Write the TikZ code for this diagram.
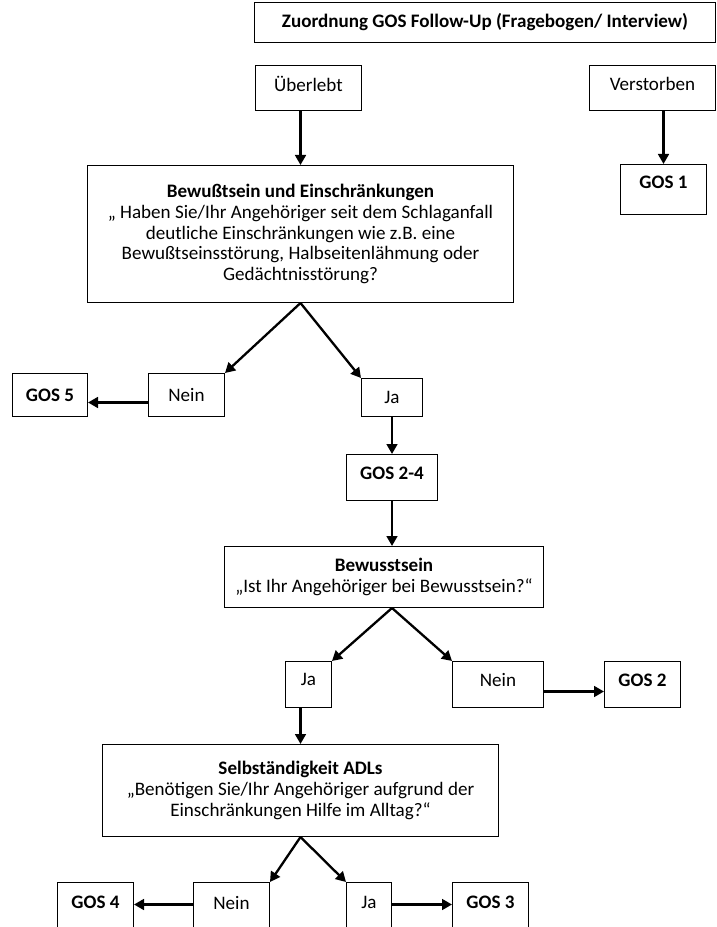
\documentclass[tikz,border=0pt]{standalone}
\usepackage{fontspec}
\setmainfont{Carlito}
\usetikzlibrary{arrows.meta}
\newcommand{\pxu}{0.65pt}
\tikzset{
  box/.style={draw,line width=0.65pt,anchor=north west,inner sep=0pt,align=center,
    font=\fontsize{12.4}{13.5}\selectfont},
  lift/.style={text depth=#1},
  flow/.style={line width=1.5pt,-{Triangle[length=6.5pt,width=7pt]}}
}
\begin{document}
\begin{tikzpicture}[x=\pxu,y=-\pxu]
                \useasboundingbox (0,0) rectangle (716,927);
                %% Titel
                \node[box,minimum width=461*\pxu,minimum height=40*\pxu] (T) at (254,2) {\textbf{Zuordnung GOS Follow-Up (Fragebogen/ Interview)}};
                %% Ueberlebt/Verstorben
                \node[box,lift=5.5pt,minimum width=106*\pxu,minimum height=45*\pxu] (U) at (255,65) {Überlebt};
                \node[box,lift=5.5pt,minimum width=126*\pxu,minimum height=45*\pxu] (V) at (589,65) {Verstorben};
                \node[box,lift=9pt,minimum width=86*\pxu,minimum height=50*\pxu] (G1) at (620,164) {\textbf{GOS 1}};
                %% Bewusstsein und Einschraenkungen
                \node[box,minimum width=426*\pxu,minimum height=137*\pxu] (B1) at (87,165) {\textbf{Bewußtsein und Einschränkungen}\\„ Haben Sie/Ihr Angehöriger seit dem Schlaganfall\\deutliche Einschränkungen wie z.B. eine\\Bewußtseinsstörung, Halbseitenlähmung oder\\Gedächtnisstörung?};
                \node[box,minimum width=76*\pxu,minimum height=43*\pxu] (N1) at (148,373) {Nein};
                \node[box,minimum width=75*\pxu,minimum height=43*\pxu] (G5) at (12,373) {\textbf{GOS 5}};
                \node[box,minimum width=61*\pxu,minimum height=38*\pxu] (J1) at (361,378) {Ja};
                \node[box,lift=5pt,minimum width=91*\pxu,minimum height=46*\pxu] (G24) at (346,454) {\textbf{GOS 2-4}};
                %% Bewusstsein
                \node[box,minimum width=319*\pxu,minimum height=61*\pxu] (B2) at (224,546) {\textbf{Bewusstsein}\\„Ist Ihr Angehöriger bei Bewusstsein?“};
                \node[box,lift=6.5pt,minimum width=46*\pxu,minimum height=46*\pxu] (J2) at (285,661) {Ja};
                \node[box,lift=6.5pt,minimum width=91*\pxu,minimum height=46*\pxu] (N2) at (452,661) {Nein};
                \node[box,lift=5pt,minimum width=76*\pxu,minimum height=46*\pxu] (G2) at (604,661) {\textbf{GOS 2}};
                %% Selbstaendigkeit
                \node[box,minimum width=396*\pxu,minimum height=92*\pxu] (S) at (102,744) {\textbf{Selbständigkeit ADLs}\\„Benötigen Sie/Ihr Angehöriger aufgrund der\\Einschränkungen Hilfe im Alltag?“};
                \node[box,lift=5pt,minimum width=76*\pxu,minimum height=48*\pxu] (N3) at (193,882) {Nein};
                \node[box,lift=5pt,minimum width=76*\pxu,minimum height=48*\pxu] (G4) at (57,882) {\textbf{GOS 4}};
                \node[box,lift=5pt,minimum width=45*\pxu,minimum height=48*\pxu] (J3) at (346,882) {Ja};
                \node[box,lift=5pt,minimum width=76*\pxu,minimum height=48*\pxu] (G3) at (452,882) {\textbf{GOS 3}};
                %% Pfeile
                \draw[flow] (U.south -| B1.north) -- (B1.north);
                \draw[flow] (V.south -| G1.north) -- (G1.north);
                \draw[flow] (B1.south) -- (N1.north east);
                \draw[flow] (B1.south) -- (J1.north west);
                \draw[flow] ([yshift=-7.5*\pxu]N1.west) -- ([yshift=-7.5*\pxu]G5.east);
                \draw[flow] (J1.south) -- (G24.north);
                \draw[flow] (G24.south) -- (G24.south |- B2.north);
                \draw[flow] (G24.south |- B2.south) -- (J2.north east);
                \draw[flow] (G24.south |- B2.south) -- (N2.north west);
                \draw[flow] ([yshift=-7*\pxu]N2.east) -- ([yshift=-7*\pxu]G2.west);
                \draw[flow] (J2.south -| S.north) -- (S.north);
                \draw[flow] (S.south) -- (N3.north east);
                \draw[flow] (S.south) -- (J3.north west);
                \draw[flow] ([yshift=2*\pxu]N3.west) -- ([yshift=2*\pxu]G4.east);
                \draw[flow] ([yshift=2*\pxu]J3.east) -- ([yshift=2*\pxu]G3.west);
            \end{tikzpicture}
\end{document}
